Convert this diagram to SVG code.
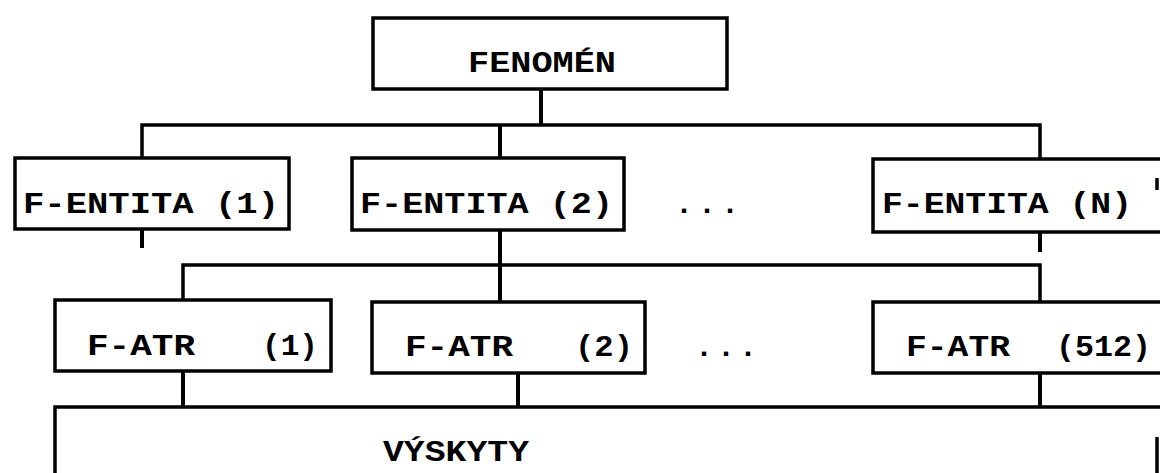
<svg xmlns="http://www.w3.org/2000/svg" width="1160" height="473" viewBox="0 0 1160 473">
  <style>
    .box { fill: none; stroke: #000; stroke-width: 3.5; }
    .wire { fill: none; stroke: #000; stroke-width: 4; stroke-linecap: butt; }
    .bus { fill: none; stroke: #000; stroke-width: 3.5; }
    .lbl { font-family: "Liberation Mono", "DejaVu Sans Mono", monospace; font-weight: bold; font-size: 30px; fill: #000; }
  </style>
  <rect width="1160" height="473" fill="#fff"/>

  <!-- connectors -->
  <g id="connectors">
    <path class="wire" d="M541,89 V125"/>
    <path class="bus" d="M142,158 V125 H1040 V159"/>
    <path class="wire" d="M500,125 V158"/>
    <path class="wire" d="M142,229 V248"/>
    <path class="wire" d="M500,230 V302"/>
    <path class="wire" d="M1040,232 V252"/>
    <path class="bus" d="M183,300 V265 H1040 V302"/>
    <path class="wire" d="M183,371 V407"/>
    <path class="wire" d="M518,373 V407"/>
    <path class="wire" d="M1040,373 V407"/>
  </g>

  <g id="fenomen">
    <rect class="box" x="373" y="18" width="354" height="71"/>
    <text class="lbl" x="468" y="72" textLength="148" lengthAdjust="spacingAndGlyphs">FENOMÉN</text>
  </g>

  <g id="entita-1">
    <rect class="box" x="15" y="158" width="274" height="71"/>
    <text class="lbl" x="23" y="213" textLength="256" lengthAdjust="spacingAndGlyphs">F-ENTITA (1)</text>
  </g>

  <g id="entita-2">
    <rect class="box" x="352" y="158" width="272" height="72"/>
    <text class="lbl" x="360" y="213" textLength="253" lengthAdjust="spacingAndGlyphs">F-ENTITA (2)</text>
  </g>

  <g id="entita-gap">
    <text class="lbl"><tspan x="675" y="213">.</tspan><tspan x="698" y="213">.</tspan><tspan x="721" y="213">.</tspan></text>
  </g>

  <g id="entita-n">
    <rect class="box" x="873" y="159" width="300" height="73"/>
    <path class="box" d="M1157,178 V190"/>
    <text class="lbl" x="882" y="213" textLength="250" lengthAdjust="spacingAndGlyphs">F-ENTITA (N)</text>
  </g>

  <g id="atr-1">
    <rect class="box" x="55" y="300" width="276" height="71"/>
    <text class="lbl" y="355"><tspan x="87" textLength="108" lengthAdjust="spacingAndGlyphs">F-ATR</tspan><tspan x="262" textLength="56" lengthAdjust="spacingAndGlyphs">(1)</tspan></text>
  </g>

  <g id="atr-2">
    <rect class="box" x="372" y="302" width="273" height="71"/>
    <text class="lbl" y="356"><tspan x="405" textLength="108" lengthAdjust="spacingAndGlyphs">F-ATR</tspan><tspan x="575" textLength="58" lengthAdjust="spacingAndGlyphs">(2)</tspan></text>
  </g>

  <g id="atr-gap">
    <text class="lbl"><tspan x="695" y="356">.</tspan><tspan x="717" y="356">.</tspan><tspan x="739" y="356">.</tspan></text>
  </g>

  <g id="atr-512">
    <rect class="box" x="873" y="302" width="300" height="71"/>
    <text class="lbl" y="356"><tspan x="906" textLength="104" lengthAdjust="spacingAndGlyphs">F-ATR</tspan><tspan x="1056" textLength="95" lengthAdjust="spacingAndGlyphs">(512)</tspan></text>
  </g>

  <g id="vyskyty">
    <path class="box" d="M55,473 V407 H1162"/>
    <path class="box" d="M1157,437 V473"/>
    <text class="lbl" x="383" y="461" textLength="146" lengthAdjust="spacingAndGlyphs">VÝSKYTY</text>
  </g>
</svg>
